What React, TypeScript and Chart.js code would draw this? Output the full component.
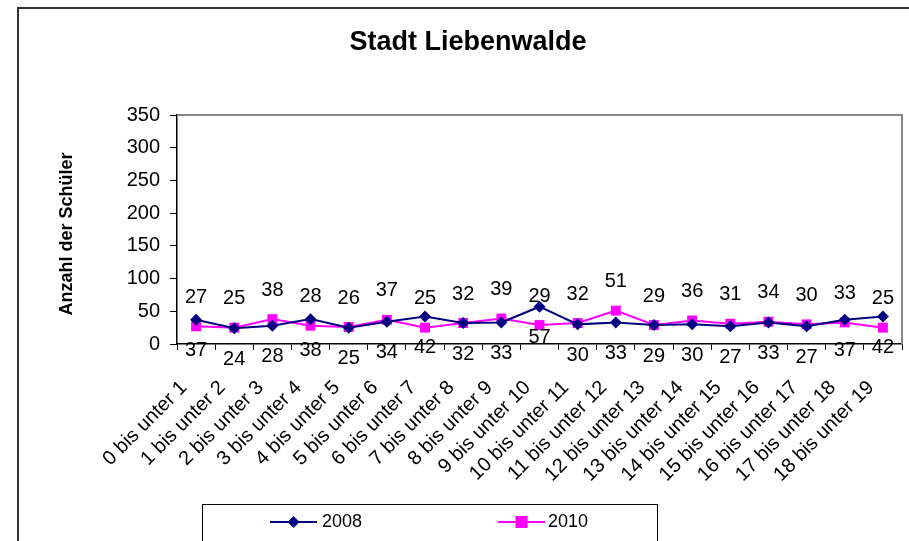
import React, { useEffect, useRef } from 'react';
import { Chart, registerables } from 'chart.js';

Chart.register(...registerables);

const categories = [
  '0 bis unter 1', '1 bis unter 2', '2 bis unter 3', '3 bis unter 4', '4 bis unter 5',
  '5 bis unter 6', '6 bis unter 7', '7 bis unter 8', '8 bis unter 9', '9 bis unter 10',
  '10 bis unter 11', '11 bis unter 12', '12 bis unter 13', '13 bis unter 14', '14 bis unter 15',
  '15 bis unter 16', '16 bis unter 17', '17 bis unter 18', '18 bis unter 19',
];
const series2008 = [37, 24, 28, 38, 25, 34, 42, 32, 33, 57, 30, 33, 29, 30, 27, 33, 27, 37, 42];
const series2010 = [27, 25, 38, 28, 26, 37, 25, 32, 39, 29, 32, 51, 29, 36, 31, 34, 30, 33, 25];
const yTicks = [0, 50, 100, 150, 200, 250, 300, 350];
const seriesNames = ['2008', '2010'];
const chartTitle = 'Stadt Liebenwalde';
const yAxisTitle = 'Anzahl der Schüler';

const FONT = '"Liberation Sans", Arial, sans-serif';
const NAVY = '#000080';
const MAGENTA = '#FF00FF';

const decor = {
  id: 'decor',
  beforeDraw(chart: any) {
    const ctx = chart.ctx;
    ctx.save();
    ctx.fillStyle = '#ffffff';
    ctx.fillRect(0, 0, chart.width, chart.height);
    ctx.strokeStyle = '#333333';
    ctx.lineWidth = 2;
    ctx.beginPath();
    ctx.moveTo(18, chart.height + 5);
    ctx.lineTo(18, 8);
    ctx.lineTo(chart.width + 5, 8);
    ctx.stroke();
    ctx.restore();
  },
  beforeDatasetsDraw(chart: any) {
    const ctx = chart.ctx;
    const a = chart.chartArea;
    ctx.save();
    ctx.strokeStyle = '#888888';
    ctx.lineWidth = 2;
    ctx.beginPath();
    ctx.moveTo(a.left, a.top);
    ctx.lineTo(a.right, a.top);
    ctx.lineTo(a.right, a.bottom);
    ctx.stroke();
    ctx.restore();
  },
  afterDatasetsDraw(chart: any) {
    const ctx = chart.ctx;
    ctx.save();
    ctx.font = `20px ${FONT}`;
    ctx.fillStyle = '#000';
    ctx.textAlign = 'center';
    ctx.textBaseline = 'middle';
    chart.data.datasets.forEach((ds: any, i: number) => {
      const meta = chart.getDatasetMeta(i);
      meta.data.forEach((pt: any, j: number) => {
        const off = i === 0 ? 31 : -29;
        ctx.fillText(String(ds.data[j]), pt.x, pt.y + off);
      });
    });
    ctx.restore();
  },
  afterDraw(chart: any) {
    const ctx = chart.ctx;
    ctx.save();
    ctx.fillStyle = '#000';
    ctx.font = `bold 27px ${FONT}`;
    ctx.textAlign = 'center';
    ctx.textBaseline = 'middle';
    ctx.fillText(chartTitle, 468, 43);
    ctx.save();
    ctx.translate(67, 234);
    ctx.rotate(-Math.PI / 2);
    ctx.font = `bold 18px ${FONT}`;
    ctx.fillText(yAxisTitle, 0, 0);
    ctx.restore();
    ctx.strokeStyle = '#000';
    ctx.lineWidth = 1;
    ctx.strokeRect(202.5, 504.5, 455, 60);
    const items = [
      { x0: 270, x1: 317, tx: 322 },
      { x0: 498, x1: 545, tx: 548 },
    ];
    const ly = 522;
    chart.data.datasets.forEach((ds: any, i: number) => {
      const it = items[i];
      ctx.strokeStyle = ds.borderColor;
      ctx.lineWidth = 2;
      ctx.beginPath();
      ctx.moveTo(it.x0, ly);
      ctx.lineTo(it.x1, ly);
      ctx.stroke();
      const cx = (it.x0 + it.x1) / 2;
      ctx.fillStyle = ds.backgroundColor;
      if (i === 0) {
        ctx.beginPath();
        ctx.moveTo(cx, ly - 6);
        ctx.lineTo(cx + 6, ly);
        ctx.lineTo(cx, ly + 6);
        ctx.lineTo(cx - 6, ly);
        ctx.closePath();
        ctx.fill();
      } else {
        ctx.fillRect(cx - 6, ly - 6, 12, 12);
      }
      ctx.fillStyle = '#000';
      ctx.font = `18px ${FONT}`;
      ctx.textAlign = 'left';
      ctx.textBaseline = 'middle';
      ctx.fillText(ds.label, it.tx, ly);
    });
    ctx.restore();
  },
};

export default function App() {
  const ref = useRef<HTMLCanvasElement | null>(null);
  useEffect(() => {
    document.body.style.margin = '0';
    const canvas = ref.current;
    if (!canvas) return;
    const chart = new Chart(canvas, {
      type: 'line',
      data: {
        labels: categories,
        datasets: [
          {
            label: seriesNames[0],
            data: series2008,
            borderColor: NAVY,
            backgroundColor: NAVY,
            borderWidth: 2,
            pointStyle: 'rectRot',
            pointRadius: 6,
            pointBorderWidth: 0,
            pointBackgroundColor: NAVY,
            tension: 0,
          },
          {
            label: seriesNames[1],
            data: series2010,
            borderColor: MAGENTA,
            backgroundColor: MAGENTA,
            borderWidth: 2,
            pointStyle: 'rect',
            pointRadius: 7,
            pointBorderWidth: 0,
            pointBackgroundColor: MAGENTA,
            tension: 0,
          },
        ],
      },
      options: {
        responsive: false,
        animation: false,
        layout: { padding: { top: 115, right: 7, left: 0, bottom: 0 } },
        plugins: {
          legend: { display: false },
          title: { display: false },
          tooltip: { enabled: false },
        },
        scales: {
          x: {
            type: 'category',
            offset: true,
            afterFit: (s: any) => {
              s.height = 197;
              s.paddingLeft = 0;
              s.paddingRight = 0;
            },
            grid: {
              offset: true,
              drawOnChartArea: false,
              drawTicks: true,
              tickLength: 6,
              tickColor: '#000',
            },
            border: { color: '#000', width: 1.5 },
            ticks: {
              autoSkip: false,
              minRotation: 45,
              maxRotation: 45,
              padding: 26,
              labelOffset: -12,
              color: '#000',
              font: { family: FONT, size: 20 },
            },
          },
          y: {
            min: 0,
            max: 350,
            afterFit: (s: any) => {
              s.width = 177;
              s.paddingTop = 0;
              s.paddingBottom = 0;
            },
            afterBuildTicks: (s: any) => { s.ticks = yTicks.map((v) => ({ value: v })); },
            grid: {
              drawOnChartArea: false,
              drawTicks: true,
              tickLength: 7,
              tickColor: '#000',
            },
            border: { color: '#000', width: 1.5 },
            ticks: {
              padding: 10,
              color: '#000',
              font: { family: FONT, size: 20 },
            },
          },
        },
      },
      plugins: [decor],
    });
    return () => chart.destroy();
  }, []);
  return (
    <div style={{ position: 'fixed', left: 0, top: 0, width: 909, height: 541, background: '#fff' }}>
      <canvas ref={ref} width={909} height={541} style={{ display: 'block' }} />
    </div>
  );
}
